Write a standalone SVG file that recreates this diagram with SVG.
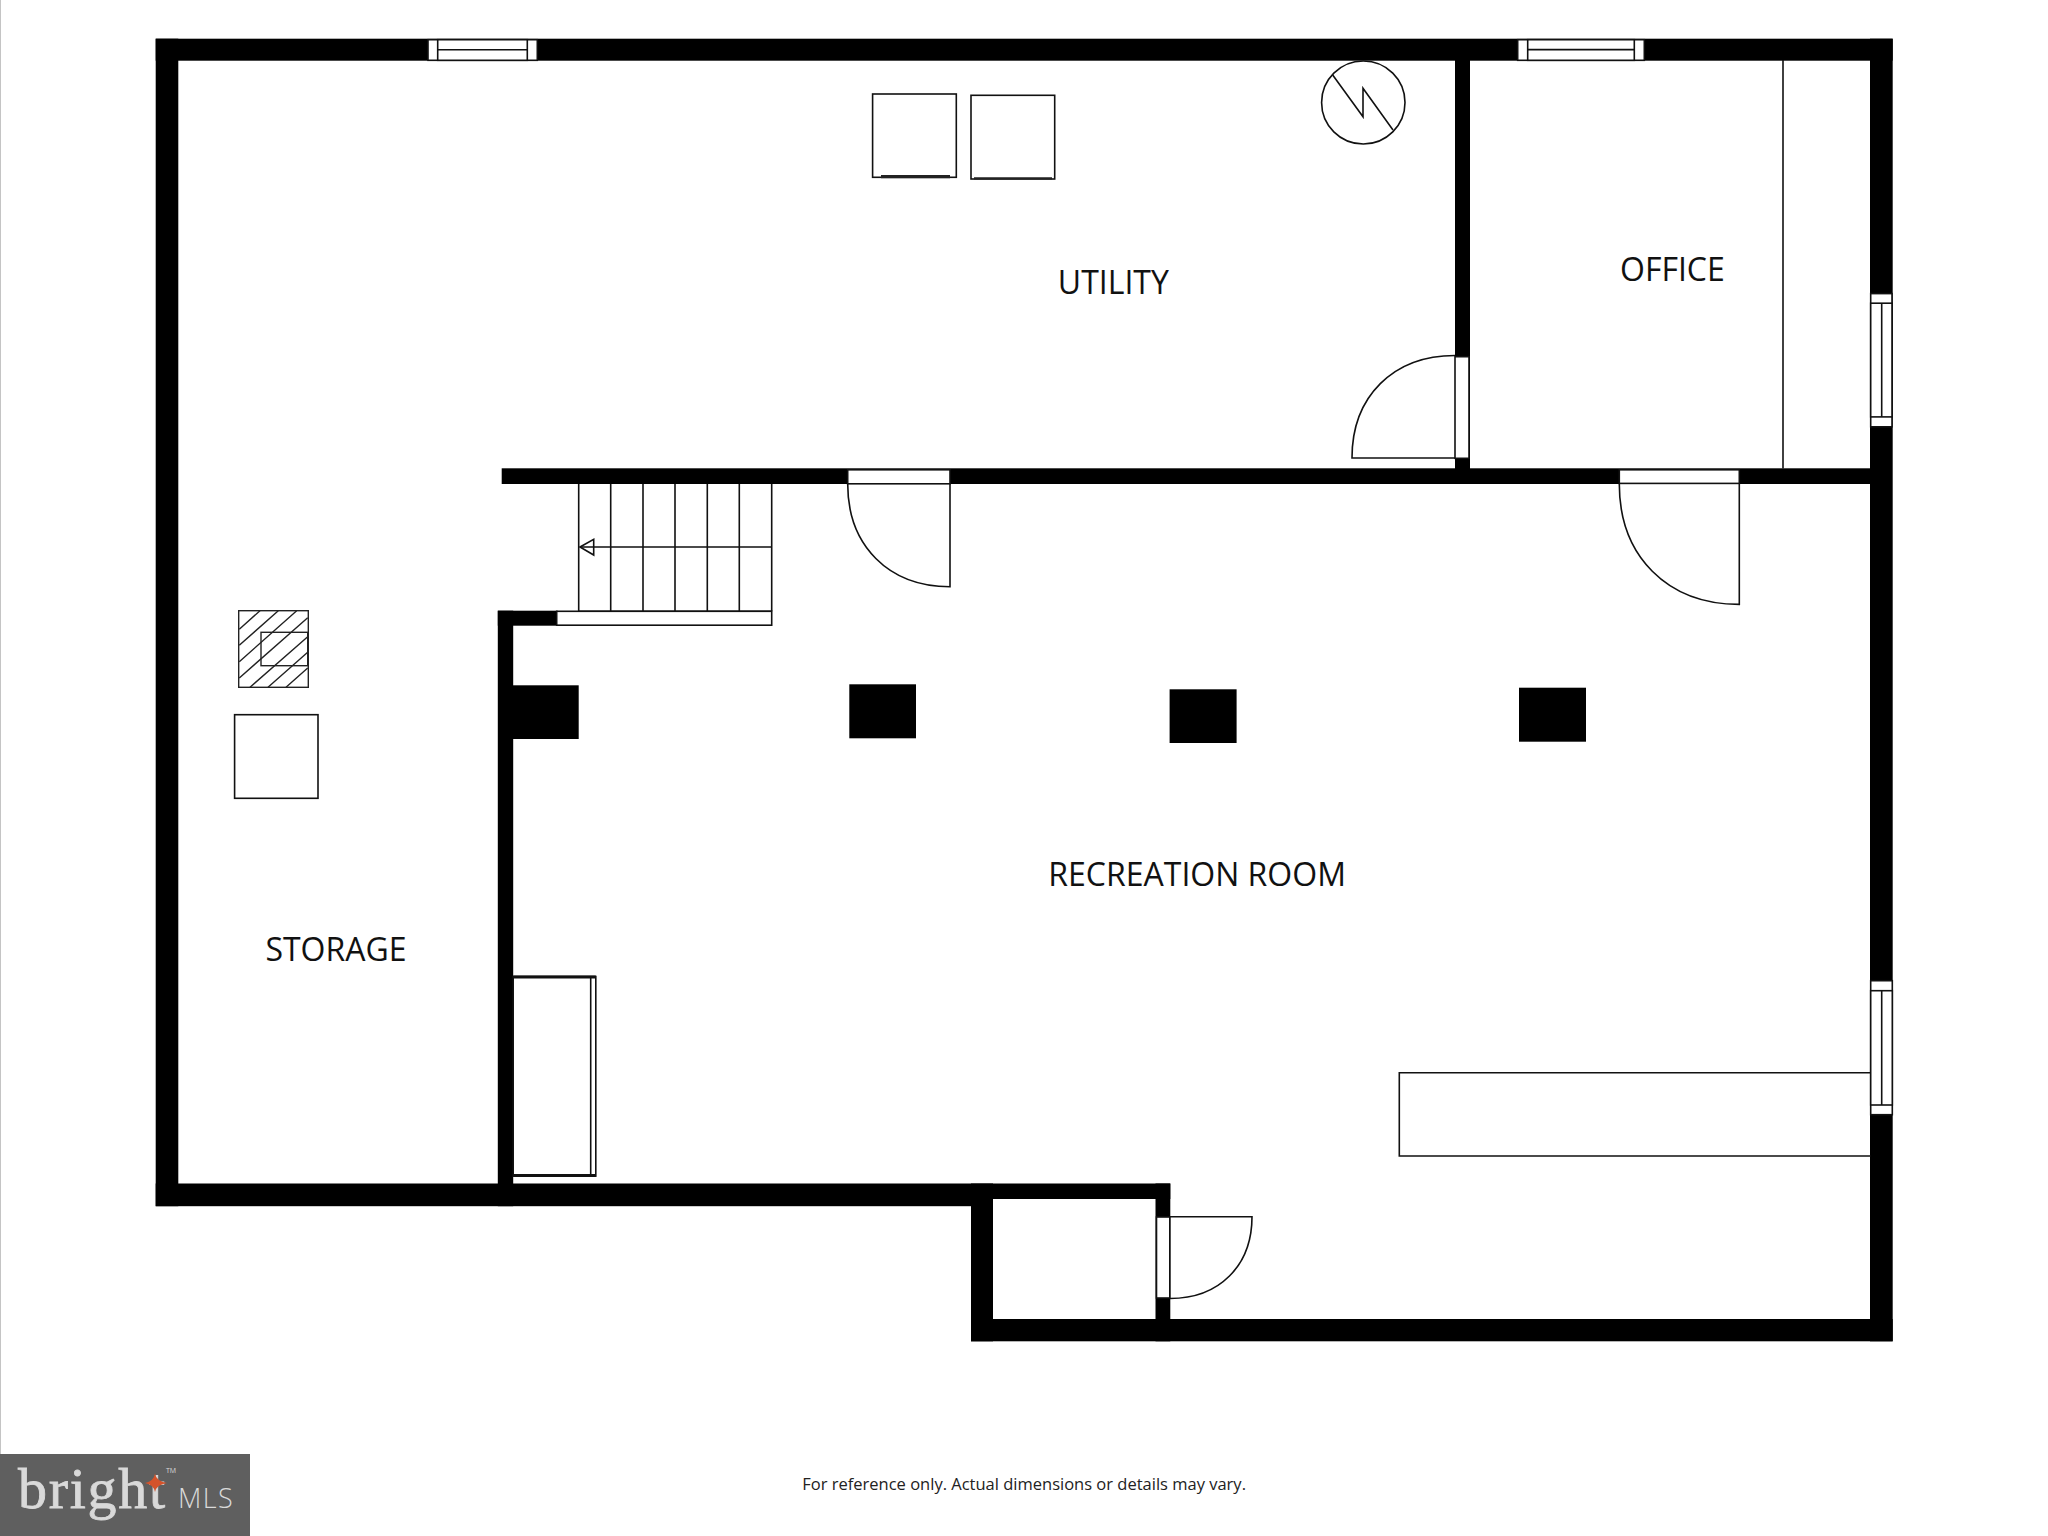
<svg xmlns="http://www.w3.org/2000/svg" width="2048" height="1536" viewBox="0 0 2048 1536">
<style>
.w{fill:#000}
.o{fill:#fff;stroke:#111;stroke-width:1.6}
.l{fill:none;stroke:#111;stroke-width:1.6}
.t{fill:none;stroke:#222;stroke-width:2}
.h{fill:none;stroke:#222;stroke-width:1.4}
.lb{font-family:"Open Sans","Noto Sans",sans-serif;font-size:32px;fill:#111}
</style>
<rect width="2048" height="1536" fill="#fff"/>
<line x1="0.5" y1="0" x2="0.5" y2="1454" stroke="#c4c4c4" stroke-width="1"/>
<g id="walls">
<rect class="w" x="155.7" y="38.7" width="1737" height="22"/>
<rect class="w" x="155.7" y="38.7" width="22.6" height="1167.5"/>
<rect class="w" x="155.7" y="1183.5" width="815.3" height="22.7"/>
<rect class="w" x="971" y="1183.5" width="199.3" height="15.5"/>
<rect class="w" x="497.8" y="610.7" width="15.4" height="595.5"/>
<rect class="w" x="497.8" y="610.7" width="60" height="15"/>
<rect class="w" x="501.7" y="468.3" width="1370" height="15.7"/>
<rect class="w" x="1455" y="60" width="15" height="424"/>
<rect class="w" x="1870" y="38.7" width="22.7" height="1302.6"/>
<rect class="w" x="971" y="1319" width="921.7" height="22.3"/>
<rect class="w" x="971" y="1183.5" width="22" height="157.8"/>
<rect class="w" x="1155.5" y="1183.5" width="14.8" height="157.8"/>
</g>
<g id="columns">
<rect class="w" x="513" y="685.3" width="65.7" height="53.7"/>
<rect class="w" x="849.3" y="684.3" width="66.7" height="54"/>
<rect class="w" x="1169.6" y="689.3" width="67" height="53.7"/>
<rect class="w" x="1519" y="687.7" width="67" height="54"/>
</g>
<g id="window-storage">
<rect class="o" x="428" y="39.7" width="109.3" height="20.6"/>
<rect class="o" x="437.7" y="39.7" width="89.6" height="20.6"/>
<line class="l" x1="437.7" y1="49.7" x2="527.3" y2="49.7"/>
</g>
<g id="window-office-top">
<rect class="o" x="1517.7" y="39.7" width="126.6" height="20.6"/>
<rect class="o" x="1527.7" y="39.7" width="106.6" height="20.6"/>
<line class="l" x1="1527.7" y1="49.6" x2="1634.3" y2="49.6"/>
</g>
<g id="window-office-right">
<rect class="o" x="1870.7" y="293.6" width="21.3" height="133.2"/>
<rect class="o" x="1870.7" y="303.2" width="21.3" height="113.7"/>
<line class="l" x1="1881.7" y1="303.2" x2="1881.7" y2="416.9"/>
</g>
<g id="window-rec-right">
<rect class="o" x="1870.7" y="980.7" width="21.6" height="134"/>
<rect class="o" x="1870.7" y="990.7" width="21.6" height="114.3"/>
<line class="l" x1="1881.7" y1="990.7" x2="1881.7" y2="1105"/>
</g>
<g id="boilers">
<rect class="l" x="872.6" y="94" width="83.7" height="83.3"/>
<line x1="881" y1="176.6" x2="950" y2="176.6" stroke="#222" stroke-width="3.2"/>
<rect class="l" x="971" y="95.3" width="83.7" height="83.7"/>
<line x1="974" y1="178.4" x2="1052" y2="178.4" stroke="#222" stroke-width="2.4"/>
</g>
<g id="electric-panel">
<ellipse class="l" cx="1363.3" cy="102.5" rx="41.7" ry="41.5"/>
<polyline class="l" points="1332.7,75 1363,116.7 1363,88.3 1393,130"/>
</g>
<g id="door-utility">
<rect class="o" x="1455" y="356.7" width="14" height="101.6"/>
<path class="l" d="M1455 355.5C1393.2 355.5 1352 396.5 1352 458H1455"/>
</g>
<g id="door-rec-left">
<rect class="o" x="847.7" y="469.8" width="102.3" height="14"/>
<path class="l" d="M847.7 484C847.7 545.6 888.6 586.7 950 586.7V484"/>
</g>
<g id="door-office">
<rect class="o" x="1619.3" y="469.8" width="120" height="13.6"/>
<path class="l" d="M1619.3 484C1619.3 556.2 1667.3 604.4 1739.3 604.4V484"/>
</g>
<g id="door-alcove">
<rect class="o" x="1156.5" y="1217" width="13.3" height="81"/>
<path class="l" d="M1169.8 1216.7H1252C1252 1265.8 1219.2 1298.5 1170 1298.5"/>
</g>
<g id="stairs">
<rect class="o" x="556.7" y="611.3" width="215" height="13.9"/>
<path class="l" d="M578.7 484V611.3M610.7 484V611.3M643 484V611.3M675 484V611.3M707.3 484V611.3M739.3 484V611.3M771.7 484V611.3M578.7 611.3H771.7M580 547H771.7"/>
<polygon class="l" points="580,547 593.7,539.3 593.7,555"/>
</g>
<g id="chimney">
<rect class="h" x="238.7" y="610.7" width="69.6" height="76.6"/>
<rect class="h" x="261" y="632.3" width="46.7" height="33.4"/>
<path class="h" d="M239.3 629.3L260 610.7M239.3 645.3L278.3 610.7M239.3 661.7L296.7 610.7M239.3 678L307.7 617.7M250 687.3L307.7 636.7M268 687.3L307.7 652.3M286 687.3L307.7 668"/>
</g>
<g id="storage-unit">
<rect class="l" x="234.6" y="714.7" width="83.4" height="83.6"/>
</g>
<g id="cabinet">
<rect class="l" x="513.2" y="976.5" width="82.6" height="199.6"/>
<line class="l" x1="590.7" y1="977" x2="590.7" y2="1176"/>
<line x1="513.2" y1="977" x2="595.8" y2="977" stroke="#111" stroke-width="3"/>
<line x1="513.2" y1="1175.5" x2="595.8" y2="1175.5" stroke="#111" stroke-width="3"/>
</g>
<g id="counter">
<path class="l" d="M1870.7 1072.7H1399.3V1156H1870.7"/>
</g>
<g id="closet">
<line class="l" x1="1783" y1="60" x2="1783" y2="468.5"/>
</g>
<g id="labels">
<text class="lb" x="1057.8" y="294">UTILITY</text>
<text class="lb" x="1620" y="281.4">OFFICE</text>
<text class="lb" x="1048.3" y="886">RECREATION ROOM</text>
<text class="lb" x="265.4" y="961.3">STORAGE</text>
<text x="802.3" y="1489.8" font-family="Open Sans, Noto Sans, sans-serif" font-size="16.5" fill="#222">For reference only. Actual dimensions or details may vary.</text>
</g>
<g id="logo">
<rect x="0" y="1454" width="250" height="82" fill="#5f5f5f"/>
<text x="18" y="1508" font-family="Liberation Serif, serif" font-size="58" textLength="147" fill="#d9d9d9" stroke="#d9d9d9" stroke-width="0.8">bright</text>
<path d="M155 1473.5Q156 1481 167 1483Q156.5 1484.5 155 1492Q153.5 1484.5 145 1483Q154 1481 155 1473.5Z" fill="#d4532b"/>
<text x="166" y="1473" font-family="Open Sans, sans-serif" font-size="7" fill="#d9d9d9">TM</text>
<text x="178" y="1508" font-family="Open Sans, sans-serif" font-weight="300" font-size="27" letter-spacing="1.4" fill="#d9d9d9">MLS</text>
</g>
</svg>
